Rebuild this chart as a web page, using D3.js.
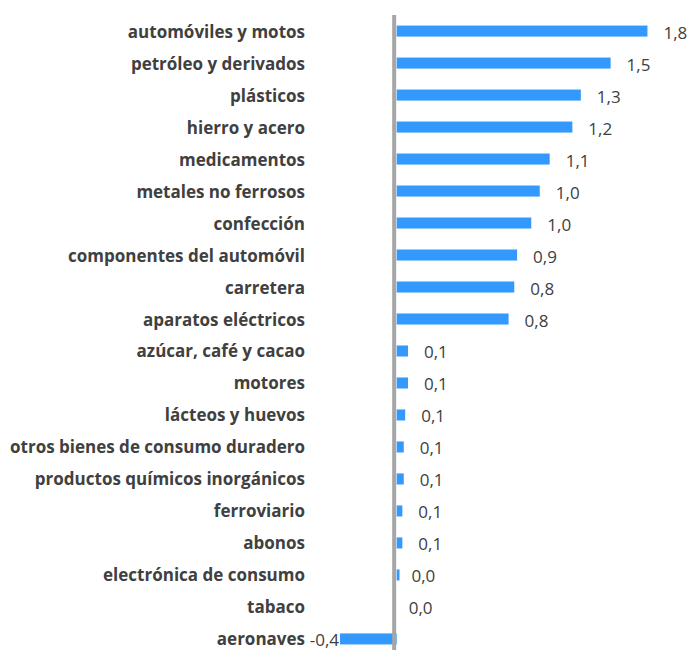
<!DOCTYPE html>
<html><head><meta charset="utf-8">
<script src="https://cdn.jsdelivr.net/npm/d3@7"></script>
<style>body{margin:0;background:#fff}</style>
</head><body>
<script>
const categories = ["automóviles y motos","petróleo y derivados","plásticos","hierro y acero","medicamentos","metales no ferrosos","confección","componentes del automóvil","carretera","aparatos eléctricos","azúcar, café y cacao","motores","lácteos y huevos","otros bienes de consumo duradero","productos químicos inorgánicos","ferroviario","abonos","electrónica de consumo","tabaco","aeronaves"];
const values = [1.77,1.51,1.30,1.24,1.08,1.01,0.95,0.85,0.83,0.79,0.08,0.08,0.06,0.05,0.05,0.04,0.04,0.02,0.0,-0.40];
const valueLabels = ["1,8","1,5","1,3","1,2","1,1","1,0","1,0","0,9","0,8","0,8","0,1","0,1","0,1","0,1","0,1","0,1","0,1","0,0","0,0","-0,4"];

const W = 691, H = 650;
const svg = d3.select("body").append("svg").attr("width", W).attr("height", H);
const data = categories.map((c,i)=>({c, v: values[i], l: valueLabels[i]}));

const x = d3.scaleLinear().domain([-0.4, 1.8]).range([340, 651.7]);
const y = d3.scaleBand().domain(categories).range([15, 655]).paddingInner(0.655).paddingOuter(0.33);
const x0 = x(0);

svg.selectAll("rect.bar").data(data).join("rect").attr("class","bar")
  .attr("x", d => Math.min(x(d.v), x0))
  .attr("width", d => Math.abs(x(d.v) - x0))
  .attr("y", d => y(d.c))
  .attr("height", y.bandwidth())
  .attr("fill", "#3399FF");

svg.append("line").attr("x1", x0-2.5).attr("x2", x0-2.5).attr("y1", 15).attr("y2", 655)
  .attr("stroke", "#A6A6A6").attr("stroke-width", 4);

const cat = svg.selectAll("text.cat").data(data).join("text").attr("class","cat")
  .attr("x", 305).attr("y", d => y(d.c) + y.bandwidth()/2)
  .attr("text-anchor","end").attr("dominant-baseline","central")
  .attr("font-family","'Open Sans', 'Liberation Sans', sans-serif").attr("font-weight","bold")
  .attr("font-size", 15).attr("fill","#404040")
  .text(d => d.c);
// fit longest label width to reference (~295px)
let maxW = 0; cat.each(function(){ maxW = Math.max(maxW, this.getComputedTextLength()); });
cat.attr("font-size", 15 * 295 / maxW);

svg.selectAll("text.val").data(data).join("text").attr("class","val")
  .attr("x", d => d.v < 0 ? x(d.v) - 1 : x(d.v) + (d.v < 0.03 ? 12 : 16))
  .attr("y", d => y(d.c) + y.bandwidth()/2 + 1)
  .attr("text-anchor", d => d.v < 0 ? "end" : "start").attr("dominant-baseline","central")
  .attr("font-family","'Open Sans', 'Liberation Sans', sans-serif")
  .attr("font-size", 17).attr("fill","#404040")
  .text(d => d.l);
</script>
</body></html>
